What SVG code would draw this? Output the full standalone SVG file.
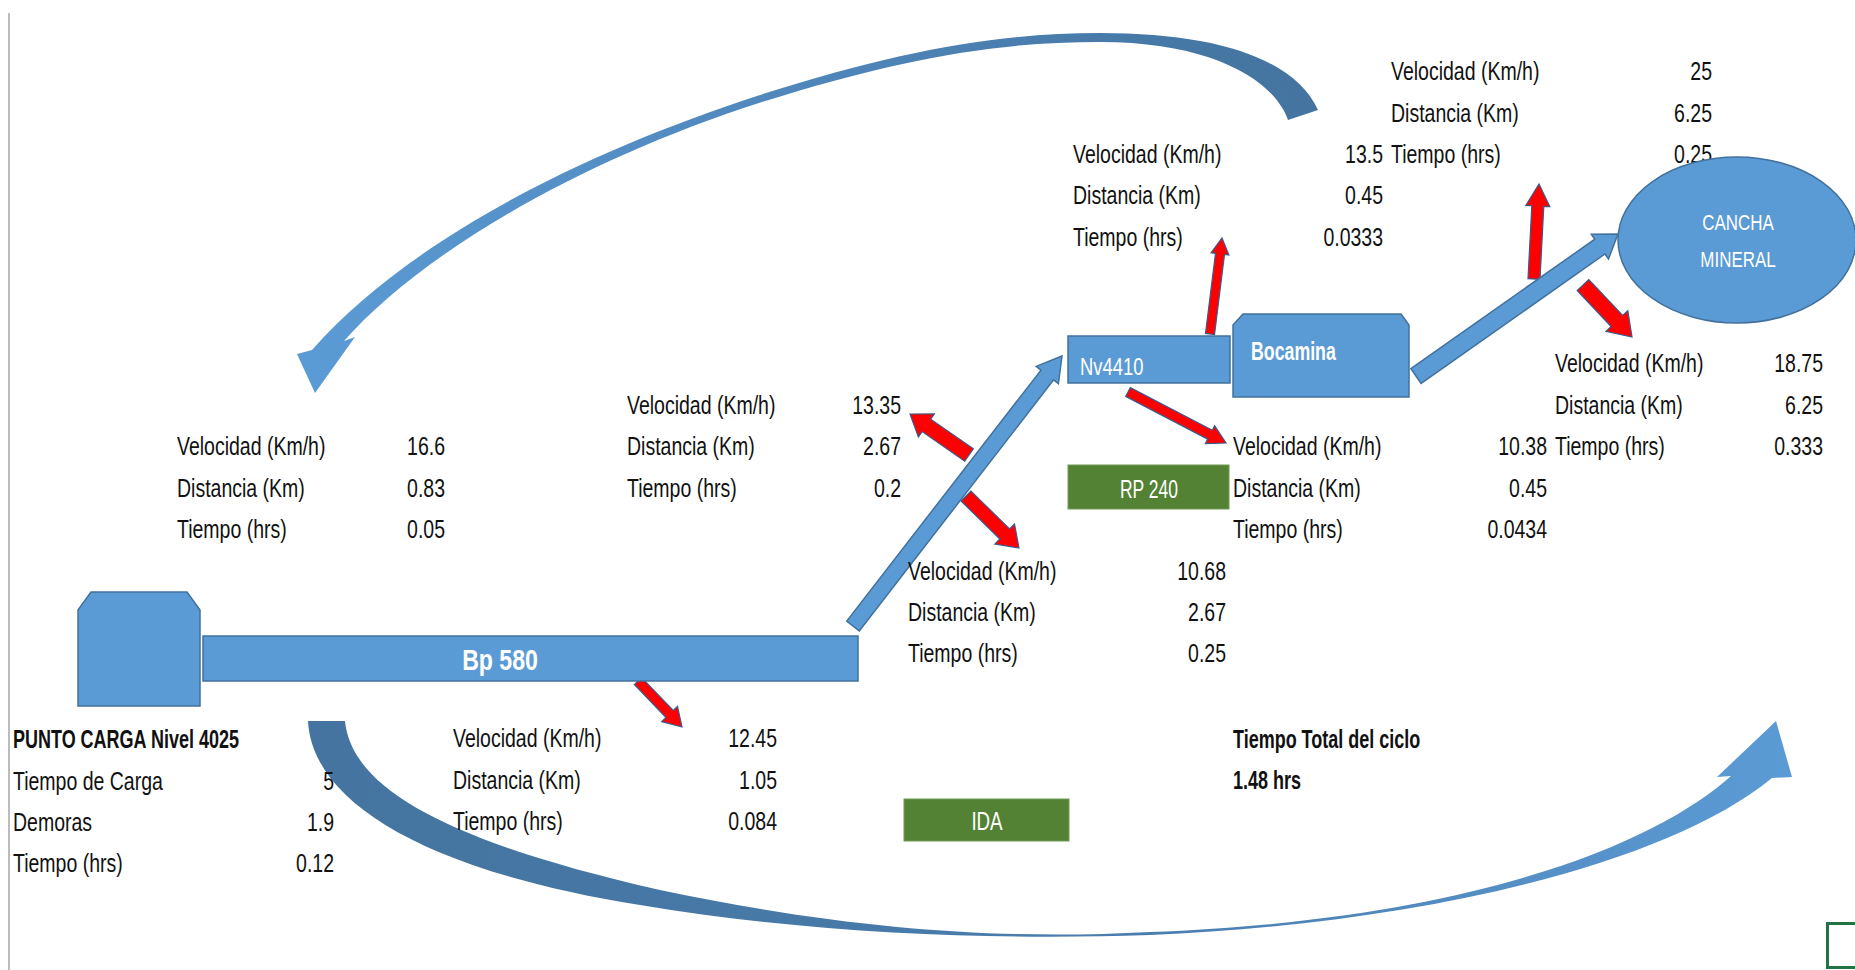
<svg xmlns="http://www.w3.org/2000/svg" width="1855" height="970" viewBox="0 0 1855 970">
<defs>
<style>
.t{font-family:"Liberation Sans",Arial,sans-serif;font-size:25px;fill:#111}
.b{font-weight:bold}
.e{text-anchor:end}
.m{text-anchor:middle}
.w{fill:#ffffff}
.blue{fill:#5B9BD5;stroke:#41719C;stroke-width:1.5}
.red{fill:#FF0000;stroke:#3A5A8C;stroke-width:1.2}
.green{fill:#548235;stroke:#6E9B52;stroke-width:1}
</style>
<linearGradient id="gTop" gradientUnits="userSpaceOnUse" x1="1300" y1="80" x2="310" y2="380">
<stop offset="0" stop-color="#44749F"/><stop offset="0.45" stop-color="#4F86BA"/><stop offset="1" stop-color="#5B9BD5"/>
</linearGradient>
<linearGradient id="gBot" gradientUnits="userSpaceOnUse" x1="310" y1="760" x2="1790" y2="760">
<stop offset="0" stop-color="#44749F"/><stop offset="0.55" stop-color="#4A7DAD"/><stop offset="1" stop-color="#5B9BD5"/>
</linearGradient>
</defs>
<rect width="1855" height="970" fill="#ffffff"/>
<line x1="9" y1="13" x2="9" y2="970" stroke="#A6A6A6" stroke-width="1.5"/>

<g id="connectors">
<path d="M312,350 C400,250 560,160 760,95 C900,50 1000,33 1100,33 C1220,33 1295,60 1318,110 L1288,120 C1275,82 1215,42 1100,42 C1000,42 905,57 762,102 C575,162 420,255 344,341 L355,337 L315,393 L297,354 Z" fill="url(#gTop)"/>
<path d="M308,721 C312,800 420,870 640,905 C820,935 1000,940 1150,935 C1400,925 1660,870 1772,778 L1792,777 L1776,721 L1717,777 L1731,776 C1660,840 1480,920 1150,932 C1000,940 850,930 660,890 C450,842 352,790 345,721 Z" fill="url(#gBot)"/>
<polygon class="red" points="634.4,684.5 666.0,717.5 661.7,721.6 682,727 677.5,706.4 673.2,710.5 641.6,677.5"/>
<polygon class="red" points="973.3,448.8 930.7,419.2 934.4,413.9 910,414 918.4,436.9 922.1,431.6 964.7,461.2"/>
<polygon class="red" points="961.1,501.0 999.8,539.0 994.9,544.0 1019,548 1014.5,524.0 1009.6,529.0 970.9,491.0"/>
<polygon class="red" points="1214.5,334.6 1224.5,254.5 1228.9,255.0 1222,238 1211.1,252.8 1215.5,253.3 1205.5,333.4"/>
<polygon class="red" points="1125.7,396.4 1207.7,439.1 1205.4,443.6 1226,443 1214.6,425.8 1212.3,430.3 1130.3,387.6"/>
<polygon class="red" points="1540.0,279.3 1543.8,206.3 1549.8,206.6 1539,184 1525.8,205.4 1531.8,205.7 1528.0,278.7"/>
<polygon class="red" points="1577.2,290.5 1611.1,326.5 1606.0,331.3 1632,337 1627.8,310.7 1622.7,315.5 1588.8,279.5"/>
<polygon class="blue" points="846.7,621.1 1041,370.1 1036.2,366.4 1062,356 1058.4,383.6 1053.6,379.9 859.3,630.9"/>
<polygon class="blue" points="1410.9,368.6 1594.8,239.2 1591.3,234.3 1618,234 1608.5,258.9 1605.0,254.0 1421.1,383.4"/>
</g>

<g id="block-a">
<text class="t" transform="translate(177,455) scale(0.78,1)">Velocidad (Km/h)</text>
<text class="t" transform="translate(177,497) scale(0.78,1)">Distancia (Km)</text>
<text class="t" transform="translate(177,538) scale(0.78,1)">Tiempo (hrs)</text>
<text class="t e" transform="translate(445,455) scale(0.78,1)">16.6</text>
<text class="t e" transform="translate(445,497) scale(0.78,1)">0.83</text>
<text class="t e" transform="translate(445,538) scale(0.78,1)">0.05</text>
</g>
<g id="block-b">
<text class="t" transform="translate(627,414) scale(0.78,1)">Velocidad (Km/h)</text>
<text class="t" transform="translate(627,455) scale(0.78,1)">Distancia (Km)</text>
<text class="t" transform="translate(627,497) scale(0.78,1)">Tiempo (hrs)</text>
<text class="t e" transform="translate(901,414) scale(0.78,1)">13.35</text>
<text class="t e" transform="translate(901,455) scale(0.78,1)">2.67</text>
<text class="t e" transform="translate(901,497) scale(0.78,1)">0.2</text>
</g>
<g id="block-c">
<text class="t" transform="translate(908,580) scale(0.78,1)">Velocidad (Km/h)</text>
<text class="t" transform="translate(908,621) scale(0.78,1)">Distancia (Km)</text>
<text class="t" transform="translate(908,662) scale(0.78,1)">Tiempo (hrs)</text>
<text class="t e" transform="translate(1226,580) scale(0.78,1)">10.68</text>
<text class="t e" transform="translate(1226,621) scale(0.78,1)">2.67</text>
<text class="t e" transform="translate(1226,662) scale(0.78,1)">0.25</text>
</g>
<g id="block-d">
<text class="t" transform="translate(1073,163) scale(0.78,1)">Velocidad (Km/h)</text>
<text class="t" transform="translate(1073,204) scale(0.78,1)">Distancia (Km)</text>
<text class="t" transform="translate(1073,246) scale(0.78,1)">Tiempo (hrs)</text>
<text class="t e" transform="translate(1383,163) scale(0.78,1)">13.5</text>
<text class="t e" transform="translate(1383,204) scale(0.78,1)">0.45</text>
<text class="t e" transform="translate(1383,246) scale(0.78,1)">0.0333</text>
</g>
<g id="block-e">
<text class="t" transform="translate(1391,80) scale(0.78,1)">Velocidad (Km/h)</text>
<text class="t" transform="translate(1391,122) scale(0.78,1)">Distancia (Km)</text>
<text class="t" transform="translate(1391,163) scale(0.78,1)">Tiempo (hrs)</text>
<text class="t e" transform="translate(1712,80) scale(0.78,1)">25</text>
<text class="t e" transform="translate(1712,122) scale(0.78,1)">6.25</text>
<text class="t e" transform="translate(1712,163) scale(0.78,1)">0.25</text>
</g>
<g id="block-f">
<text class="t" transform="translate(1555,372) scale(0.78,1)">Velocidad (Km/h)</text>
<text class="t" transform="translate(1555,414) scale(0.78,1)">Distancia (Km)</text>
<text class="t" transform="translate(1555,455) scale(0.78,1)">Tiempo (hrs)</text>
<text class="t e" transform="translate(1823,372) scale(0.78,1)">18.75</text>
<text class="t e" transform="translate(1823,414) scale(0.78,1)">6.25</text>
<text class="t e" transform="translate(1823,455) scale(0.78,1)">0.333</text>
</g>
<g id="block-g">
<text class="t" transform="translate(1233,455) scale(0.78,1)">Velocidad (Km/h)</text>
<text class="t" transform="translate(1233,497) scale(0.78,1)">Distancia (Km)</text>
<text class="t" transform="translate(1233,538) scale(0.78,1)">Tiempo (hrs)</text>
<text class="t e" transform="translate(1547,455) scale(0.78,1)">10.38</text>
<text class="t e" transform="translate(1547,497) scale(0.78,1)">0.45</text>
<text class="t e" transform="translate(1547,538) scale(0.78,1)">0.0434</text>
</g>
<g id="block-h">
<text class="t" transform="translate(453,747) scale(0.78,1)">Velocidad (Km/h)</text>
<text class="t" transform="translate(453,789) scale(0.78,1)">Distancia (Km)</text>
<text class="t" transform="translate(453,830) scale(0.78,1)">Tiempo (hrs)</text>
<text class="t e" transform="translate(777,747) scale(0.78,1)">12.45</text>
<text class="t e" transform="translate(777,789) scale(0.78,1)">1.05</text>
<text class="t e" transform="translate(777,830) scale(0.78,1)">0.084</text>
</g>
<g id="block-punto-carga">
<text class="t b" transform="translate(13,748) scale(0.72,1)">PUNTO CARGA Nivel 4025</text>
<text class="t" transform="translate(13,790) scale(0.78,1)">Tiempo de Carga</text>
<text class="t" transform="translate(13,831) scale(0.78,1)">Demoras</text>
<text class="t" transform="translate(13,872) scale(0.78,1)">Tiempo (hrs)</text>
<text class="t e" transform="translate(334,790) scale(0.78,1)">5</text>
<text class="t e" transform="translate(334,831) scale(0.78,1)">1.9</text>
<text class="t e" transform="translate(334,872) scale(0.78,1)">0.12</text>
</g>
<g id="total">
<text class="t b" transform="translate(1233,748) scale(0.72,1)">Tiempo Total del ciclo</text>
<text class="t b" transform="translate(1233,789) scale(0.72,1)">1.48 hrs</text>
</g>

<g id="node-punto-carga">
<polygon class="blue" points="78,610 91,592 187,592 200,610 200,706 78,706"/>
</g>
<g id="node-bp580">
<rect class="blue" x="203" y="636" width="655" height="45"/>
<text class="t b w m" style="font-size:30px" transform="translate(500,670) scale(0.77,1)">Bp 580</text>
</g>
<g id="node-nv4410">
<rect class="blue" x="1068" y="336" width="162" height="47"/>
<text class="t w" style="font-size:23px" transform="translate(1080,375) scale(0.8,1)">Nv4410</text>
</g>
<g id="node-bocamina">
<polygon class="blue" points="1233,325 1243,314 1401,314 1409,325 1409,397 1233,397"/>
<text class="t b w" transform="translate(1251,360) scale(0.71,1)">Bocamina</text>
</g>
<g id="node-cancha">
<ellipse class="blue" cx="1737" cy="240" rx="119" ry="83"/>
<text class="t w m" style="font-size:22px" transform="translate(1738,230) scale(0.77,1)">CANCHA</text>
<text class="t w m" style="font-size:22px" transform="translate(1738,267) scale(0.77,1)">MINERAL</text>
</g>
<g id="node-rp240">
<rect class="green" x="1068" y="465" width="161" height="44"/>
<text class="t w m" transform="translate(1149,498) scale(0.7,1)">RP 240</text>
</g>
<g id="node-ida">
<rect class="green" x="904" y="799" width="165" height="42"/>
<text class="t w m" transform="translate(987,830) scale(0.75,1)">IDA</text>
</g>
<rect x="1827.5" y="923.5" width="40" height="44" fill="none" stroke="#217346" stroke-width="3"/>
</svg>
